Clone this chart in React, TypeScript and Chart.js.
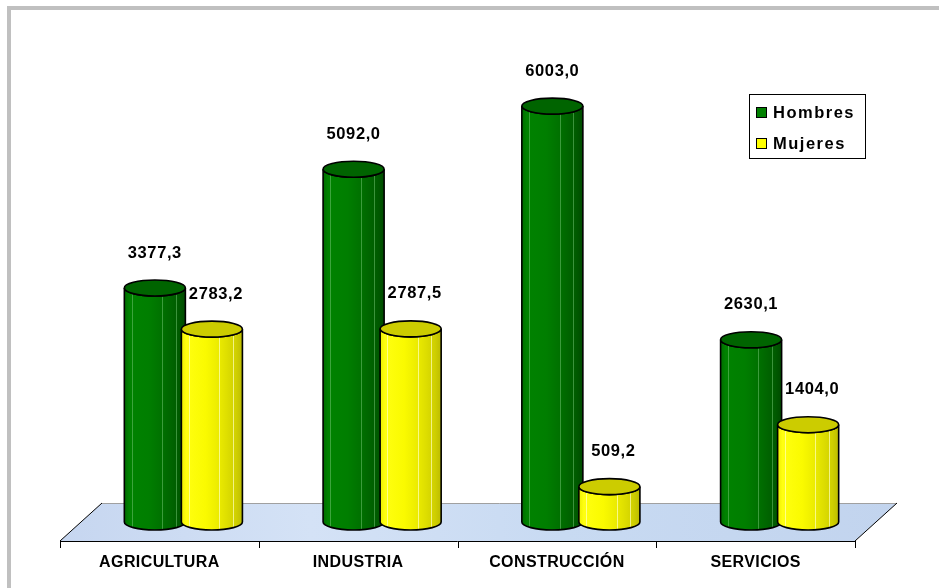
import React, { useEffect, useRef } from "react";
import { Chart, registerables } from "chart.js";

Chart.register(...registerables);

const CATEGORIES = ["AGRICULTURA", "INDUSTRIA", "CONSTRUCCIÓN", "SERVICIOS"];
const HOMBRES = [3377.3, 5092.0, 6003.0, 2630.1];
const MUJERES = [2783.2, 2787.5, 509.2, 1404.0];
const SERIES_LABELS = ["Hombres", "Mujeres"];
const Y_MIN = -275;
const Y_MAX = 7390;

const FONT = "'Liberation Sans', Arial, sans-serif";

const STYLES = [
  {
    base: "#008000",
    top: "#006400",
    stops: [
      [0, "#006c00"],
      [0.08, "#008200"],
      [0.4, "#007e00"],
      [0.6, "#007200"],
      [0.75, "#006600"],
      [0.9, "#005a00"],
      [1, "#004a00"],
    ],
    facet: "rgba(120,200,120,0.5)",
  },
  {
    base: "#ffff00",
    top: "#cccc00",
    stops: [
      [0, "#eeee00"],
      [0.08, "#ffff10"],
      [0.4, "#fafa00"],
      [0.6, "#ecec00"],
      [0.75, "#dede00"],
      [0.9, "#cfcf00"],
      [1, "#bcbc00"],
    ],
    facet: "rgba(255,255,190,0.7)",
  },
];

function bodyPath(ctx: CanvasRenderingContext2D, cx: number, r: number, top: number, base: number, ry: number) {
  ctx.beginPath();
  ctx.moveTo(cx - r, top);
  ctx.lineTo(cx - r, base);
  ctx.ellipse(cx, base, r, ry, 0, Math.PI, 0, true);
  ctx.lineTo(cx + r, top);
  ctx.ellipse(cx, top, r, ry, 0, 0, Math.PI, false);
  ctx.closePath();
}

function drawCylinder(ctx: CanvasRenderingContext2D, cx: number, r: number, top: number, base: number, ry: number, st: any) {
  ctx.save();
  const g = ctx.createLinearGradient(cx - r, 0, cx + r, 0);
  st.stops.forEach((s: any) => g.addColorStop(s[0], s[1]));
  bodyPath(ctx, cx, r, top, base, ry);
  ctx.fillStyle = g;
  ctx.fill();
  // facets
  ctx.save();
  ctx.clip();
  ctx.strokeStyle = st.facet;
  ctx.lineWidth = 1;
  [0.12, 0.62, 0.84].forEach((f) => {
    const x = Math.round(cx - r + f * 2 * r) + 0.5;
    ctx.beginPath();
    ctx.moveTo(x, top);
    ctx.lineTo(x, base + ry);
    ctx.stroke();
  });
  ctx.restore();
  bodyPath(ctx, cx, r, top, base, ry);
  ctx.lineWidth = 1.6;
  ctx.strokeStyle = "#000";
  ctx.stroke();
  // top ellipse
  ctx.beginPath();
  ctx.ellipse(cx, top, r, ry, 0, 0, Math.PI * 2);
  ctx.fillStyle = st.top;
  ctx.fill();
  ctx.stroke();
  ctx.restore();
}

const fmt = (v: number) => v.toFixed(1).replace(".", ",");

const cylinderPlugin = {
  id: "cyl3d",
  beforeDraw(chart: any) {
    const ctx = chart.ctx;
    ctx.save();
    ctx.fillStyle = "#c0c0c0";
    ctx.fillRect(7, 6, chart.width - 7, 4);
    ctx.fillRect(7, 6, 4, chart.height - 6);
    ctx.restore();
  },
  beforeDatasetsDraw(chart: any) {
    const ctx: CanvasRenderingContext2D = chart.ctx;
    const { left, right, bottom } = chart.chartArea;
    const xScale = chart.scales.x;
    const yScale = chart.scales.y;
    const n = chart.data.labels.length;
    const catW = (right - left) / n;
    const DXF = 42;
    const DYF = 38;
    const DXB = 24;
    const RY = 8;

    ctx.save();
    // floor
    const fg = ctx.createLinearGradient(left, bottom, right + DXF, bottom - DYF);
    fg.addColorStop(0, "#c6d6f0");
    fg.addColorStop(0.3, "#d4e2f6");
    fg.addColorStop(0.6, "#c8daf2");
    fg.addColorStop(1, "#c2d4ee");
    ctx.beginPath();
    ctx.moveTo(left, bottom);
    ctx.lineTo(right, bottom);
    ctx.lineTo(right + DXF, bottom - DYF);
    ctx.lineTo(left + DXF, bottom - DYF);
    ctx.closePath();
    ctx.fillStyle = fg;
    ctx.fill();
    ctx.lineWidth = 1;
    ctx.strokeStyle = "#a0a0a0";
    ctx.beginPath();
    ctx.moveTo(left + DXF, bottom - DYF + 0.5);
    ctx.lineTo(right + DXF, bottom - DYF + 0.5);
    ctx.stroke();
    ctx.strokeStyle = "#000";
    ctx.beginPath();
    ctx.moveTo(left + DXF, bottom - DYF);
    ctx.lineTo(left, bottom);
    ctx.moveTo(right, bottom);
    ctx.lineTo(right + DXF, bottom - DYF);
    ctx.stroke();
    // axis line + ticks
    ctx.beginPath();
    ctx.moveTo(left, bottom + 0.5);
    ctx.lineTo(right, bottom + 0.5);
    for (let i = 0; i <= n; i++) {
      const x = Math.round(left + i * catW) + 0.5;
      ctx.moveTo(x, bottom);
      ctx.lineTo(x, bottom + 7);
    }
    ctx.stroke();

    // category labels
    ctx.fillStyle = "#000";
    ctx.font = `bold 16px ${FONT}`;
    (ctx as any).letterSpacing = "0.4px";
    ctx.textAlign = "center";
    ctx.textBaseline = "middle";
    chart.data.labels.forEach((lab: string, i: number) => {
      ctx.fillText(lab, xScale.getPixelForValue(i), bottom + 22);
    });

    // cylinders
    const base = yScale.getPixelForValue(0);
    chart.data.datasets.forEach((ds: any, di: number) => {
      const meta = chart.getDatasetMeta(di);
      meta.data.forEach((el: any) => {
        const r = el.width / 2;
        drawCylinder(ctx, el.x + DXB, r, el.y, base, RY, STYLES[di]);
      });
    });

    // value labels
    ctx.font = `bold 16.5px ${FONT}`;
    (ctx as any).letterSpacing = "0.6px";
    ctx.fillStyle = "#000";
    chart.data.datasets.forEach((ds: any, di: number) => {
      const meta = chart.getDatasetMeta(di);
      meta.data.forEach((el: any, i: number) => {
        ctx.fillText(fmt(ds.data[i]), el.x + DXB + (di === 1 ? 4 : 0), el.y - 35);
      });
    });

    // legend
    (ctx as any).letterSpacing = "1.5px";
    ctx.font = `bold 16.5px ${FONT}`;
    ctx.textAlign = "left";
    ctx.lineWidth = 1;
    ctx.strokeStyle = "#000";
    ctx.strokeRect(749.5, 94.5, 116, 64);
    chart.data.datasets.forEach((ds: any, di: number) => {
      const sy = 107 + di * 31;
      ctx.fillStyle = STYLES[di].base;
      ctx.fillRect(756.5, sy + 0.5, 10, 10);
      ctx.strokeRect(756.5, sy + 0.5, 10, 10);
      ctx.fillStyle = "#000";
      ctx.fillText(ds.label, 773, sy + 6);
    });
    (ctx as any).letterSpacing = "0px";
    ctx.restore();
    return false;
  },
};

export default function App() {
  const ref = useRef<HTMLCanvasElement>(null);
  useEffect(() => {
    if (!ref.current) return;
    const chart = new Chart(ref.current, {
      type: "bar",
      data: {
        labels: CATEGORIES,
        datasets: [
          { label: SERIES_LABELS[0], data: HOMBRES, backgroundColor: STYLES[0].base },
          { label: SERIES_LABELS[1], data: MUJERES, backgroundColor: STYLES[1].base },
        ],
      },
      options: {
        responsive: false,
        animation: false,
        layout: { padding: { left: 60, right: 84, top: 10, bottom: 47 } },
        datasets: { bar: { barPercentage: 1.07, categoryPercentage: 0.574 } },
        scales: {
          x: { type: "category", display: false, offset: true },
          y: { display: false, min: Y_MIN, max: Y_MAX },
        },
        plugins: { legend: { display: false }, tooltip: { enabled: false } },
      } as any,
      plugins: [cylinderPlugin],
    });
    return () => chart.destroy();
  }, []);
  return (
    <div style={{ position: "absolute", left: 0, top: 0, width: 939, height: 588, background: "#fff" }}>
      <canvas ref={ref} width={939} height={588} style={{ width: 939, height: 588, display: "block" }} />
    </div>
  );
}
